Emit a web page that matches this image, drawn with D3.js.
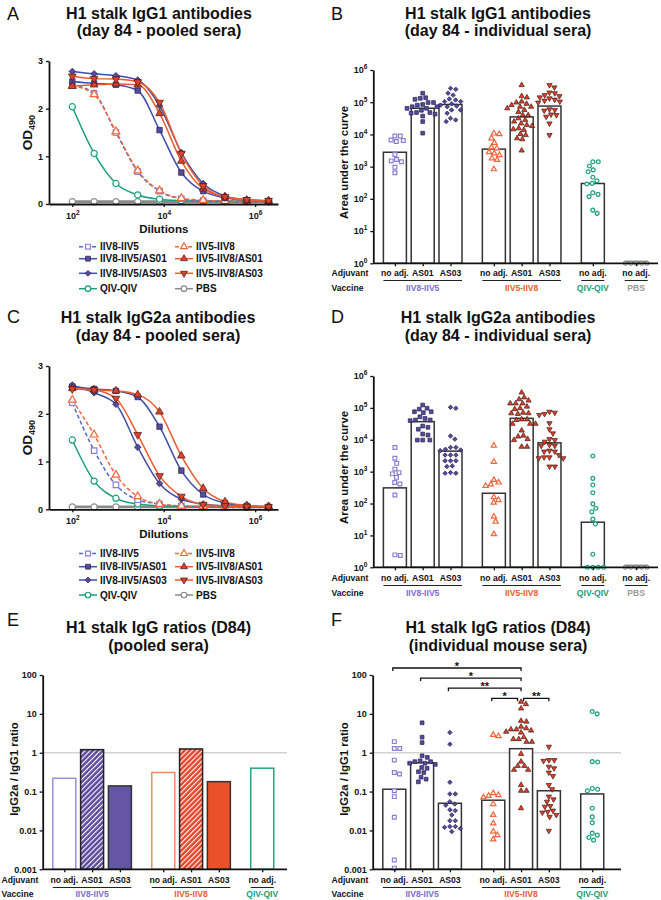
<!DOCTYPE html>
<html><head><meta charset="utf-8">
<script src="https://cdn.jsdelivr.net/npm/d3@7"></script>
<style>body{margin:0;background:#fff}svg{display:block}</style>
</head><body>
<script>
// ================= DATA =================
const seriesNames = ["IIV8-IIV5","IIV8-IIV5/AS01","IIV8-IIV5/AS03","IIV5-IIV8","IIV5-IIV8/AS01","IIV5-IIV8/AS03","QIV-QIV","PBS"];
const dilutions = [100,300,900,2700,8100,24300,72900,218700,656100,1968300];
const dilutionTicks = [1e2,1e4,1e6];
const odTicks = [0,1,2,3];

// Panel A: OD490 of pooled sera, IgG1 (rows follow seriesNames)
const odIgG1 = [
  [2.50,2.32,1.50,0.68,0.27,0.11,0.07,0.06,0.05,0.05],
  [2.57,2.53,2.50,2.38,1.55,0.66,0.27,0.13,0.08,0.06],
  [2.78,2.73,2.69,2.60,2.06,1.08,0.43,0.17,0.09,0.07],
  [2.48,2.30,1.52,0.70,0.28,0.12,0.08,0.06,0.05,0.05],
  [2.47,2.50,2.52,2.50,1.90,0.90,0.32,0.15,0.08,0.07],
  [2.68,2.63,2.62,2.56,2.13,1.06,0.38,0.15,0.09,0.07],
  [2.04,1.06,0.43,0.19,0.10,0.07,0.06,0.05,0.05,0.05],
  [0.05,0.05,0.05,0.05,0.05,0.05,0.05,0.05,0.05,0.05]
];
// Panel C: OD490 of pooled sera, IgG2a
const odIgG2a = [
  [2.23,1.23,0.51,0.20,0.11,0.07,0.05,0.04,0.04,0.04],
  [2.57,2.52,2.48,2.35,1.73,0.81,0.31,0.13,0.07,0.05],
  [2.60,2.44,2.20,1.30,0.54,0.21,0.11,0.07,0.06,0.05],
  [2.29,1.56,0.72,0.27,0.11,0.07,0.06,0.05,0.05,0.05],
  [2.53,2.50,2.48,2.40,2.04,1.12,0.44,0.16,0.08,0.06],
  [2.52,2.50,2.32,1.56,0.70,0.27,0.10,0.07,0.06,0.05],
  [1.45,0.59,0.23,0.11,0.07,0.06,0.05,0.05,0.05,0.05],
  [0.05,0.05,0.05,0.05,0.05,0.05,0.05,0.05,0.05,0.05]
];

// Categories for bar panels
const adjuvants = ["no adj.","AS01","AS03","no adj.","AS01","AS03","no adj.","no adj."];
const vaccines = ["IIV8-IIV5","IIV5-IIV8","QIV-QIV","PBS"];
const vaccineOfBar = [0,0,0,1,1,1,2,3];

// Panel B: IgG1 area under the curve (bar = geometric mean; points = log10 of individual AUC)
const igg1Bars = [2800,65000,85000,3500,35000,76000,300,1];
const igg1PointsLog10 = [
  [3.95,3.95,3.81,3.78,3.83,3.38,3.15,3.18,3.22,2.98,2.81],
  [5.28,5.14,5.12,5.09,4.93,4.99,4.99,4.91,4.81,4.86,4.81,4.68,4.66,4.68,4.57,4.63,4.40,4.04,4.86,4.75],
  [5.43,5.40,5.28,5.22,5.07,5.02,5.02,4.88,4.91,4.86,4.76,4.76,4.66,4.50,4.45,4.40,4.95,5.10],
  [4.01,4.03,3.88,3.74,3.60,3.41,3.57,3.36,3.26,3.21,2.92,3.45],
  [5.53,5.19,5.15,5.02,4.99,4.91,4.86,4.86,4.81,4.76,4.95,4.60,4.60,4.50,4.45,4.34,4.26,4.29,4.16,4.14,4.19,3.98,3.88,3.85,4.01,3.50,4.70,4.40],
  [5.53,5.46,5.30,5.28,5.19,5.15,5.12,5.05,5.02,4.99,5.08,4.76,4.78,4.74,4.60,4.55,4.62,4.34,3.98,5.22],
  [3.15,3.15,3.02,2.90,2.84,2.67,2.56,2.46,2.48,2.14,2.07,2.19,1.55,1.65],
  [0,0,0,0,0]
];
// Panel D: IgG2a area under the curve
const igg2aBars = [310,37000,4400,210,47000,8000,26,1];
const igg2aPointsLog10 = [
  [3.76,3.42,3.26,3.08,2.93,2.97,2.82,2.61,2.66,2.27,0.37,0.39],
  [5.09,4.96,4.99,4.88,4.85,4.88,4.72,4.67,4.62,4.60,4.62,4.39,4.33,4.43,4.15,4.18,3.99,3.99,3.99],
  [5.02,4.99,4.12,4.02,3.76,3.70,3.66,3.68,3.76,3.52,3.52,3.52,3.34,3.34,3.34,3.16,3.18,2.97,2.95,2.95],
  [3.82,3.31,2.66,2.60,2.74,2.55,2.20,2.03,2.11,1.59,1.43,1.04],
  [5.48,5.33,5.27,5.14,5.14,5.23,5.14,5.04,4.96,4.99,4.85,4.83,4.81,4.83,4.64,4.64,4.62,4.50,4.50,4.50,4.29,4.13,4.10,4.02,3.99,3.78,3.78],
  [4.85,4.78,4.81,4.88,4.52,4.33,4.20,4.02,3.94,3.99,3.81,3.84,3.81,3.63,3.63,3.66,3.45,3.42,3.42,3.45,3.52,3.16,3.16],
  [3.49,2.79,2.58,2.34,1.99,1.85,1.74,1.51,1.36,0.41,0,0,0,0],
  [0,0,0,0,0]
];
// Panel E: IgG2a/IgG1 ratio of pooled sera
const pooledRatio = [0.22,1.2,0.14,0.31,1.25,0.18,0.40];
// Panel F: IgG2a/IgG1 ratio of individual sera
const ratioBars = [0.115,0.55,0.05,0.06,1.27,0.105,0.087];
const ratioPointsLog10 = [
  [0.285,0.11,0.11,-0.19,-0.55,-0.51,-0.98,-1.13,-1.66,-2.76,-2.97],
  [0.77,0.40,0.26,-0.12,-0.08,-0.23,-0.21,-0.23,-0.27,-0.27,-0.38,-0.40,-0.49,-0.51,-0.63,-0.75,-0.68,-0.30],
  [0.52,0.22,-0.76,-1.06,-1.06,-1.26,-1.35,-1.32,-1.47,-1.49,-1.60,-1.75,-1.75,-1.90,-1.92,-1.90,-1.95,-2.03],
  [0.43,0.46,-1.04,-1.15,-1.11,-1.09,-1.32,-1.60,-1.82,-2.03,-2.12,-2.23],
  [1.31,1.25,1.14,0.82,0.80,0.67,0.63,0.60,0.57,0.54,0.52,0.60,0.40,0.35,0.35,0.28,0.28,-0.03,-0.23,-0.34,-0.44,-0.44,-0.34,-0.83,-0.98,-0.98,-1.43],
  [0.155,-0.19,-0.21,-0.19,-0.40,-0.36,-0.51,-0.83,-0.94,-1.13,-1.26,-1.39,-1.37,-1.49,-1.54,-1.52,-1.60,-1.65,-2.01,-0.60,-1.20],
  [1.0,1.06,-0.23,-0.24,-0.92,-0.98,-0.94,-1.43,-1.65,-1.80,-2.12,-2.07,-2.18,-2.25]
];
const aucTicks = [1,10,100,1e3,1e4,1e5,1e6];
const ratioTicks = [0.001,0.01,0.1,1,10,100];
// significance brackets in F: [bar a, bar b, label]
const sigPairs = [[0,4,"*"],[1,4,"*"],[2,4,"**"],[3,4,"*"],[4,5,"**"]];

// ================= STYLE =================
const FONT = '"Liberation Sans", Arial, Helvetica, sans-serif';
const styles = [
  {sym:"square", fill:"#fff", stroke:"#8a7ed4", line:"#5468c8", dash:"4,2.5"},
  {sym:"square", fill:"#574a9f", stroke:"#26214d", line:"#3f4ea8"},
  {sym:"diamond", fill:"#574a9f", stroke:"#26214d", line:"#3f4ea8"},
  {sym:"triangle", fill:"#fff", stroke:"#f3643a", line:"#f3643a", dash:"4,2.5"},
  {sym:"triangle", fill:"#e3402b", stroke:"#3b1a12", line:"#ef5a2c"},
  {sym:"triangleDown", fill:"#e3402b", stroke:"#3b1a12", line:"#ef5a2c"},
  {sym:"circle", fill:"#fff", stroke:"#17a07b", line:"#17a07b"},
  {sym:"circle", fill:"#fff", stroke:"#8a8a8a", line:"#8a8a8a"}
];
const vaccineColors = ["#7b6fd0","#f05a30","#16a07a","#9a9a9a"];
const smallSizes = {square:14, diamond:10, triangle:12, triangleDown:12, circle:12};
const curveSizes = {square:30, diamond:22, triangle:26, triangleDown:26, circle:30};
const legendSizes = {square:24, diamond:17, triangle:21, triangleDown:21, circle:24};

const svg = d3.select("body").append("svg").attr("width",661).attr("height",900)
  .style("font-family",FONT);

const defs = svg.append("defs");
function hatch(id, color){
  const p = defs.append("pattern").attr("id",id).attr("patternUnits","userSpaceOnUse")
    .attr("width",3.6).attr("height",3.6).attr("patternTransform","rotate(45)");
  p.append("rect").attr("width",3.6).attr("height",3.6).attr("fill",color);
  p.append("line").attr("x1",0).attr("y1",0).attr("x2",0).attr("y2",3.6).attr("stroke","#fff").attr("stroke-width",2.2);
}
hatch("hatchPurple","#5a4a9e");
hatch("hatchRed","#e8452a");

function markerPath(type, size){
  const t = {square:d3.symbolSquare, diamond:d3.symbolSquare, triangle:d3.symbolTriangle,
             triangleDown:d3.symbolTriangle, circle:d3.symbolCircle}[type];
  return d3.symbol().type(t).size(size)();
}
function drawMarker(g, st, x, y, sizes){
  const rot = st.sym==="diamond"?45:(st.sym==="triangleDown"?180:0);
  g.append("path").attr("d", markerPath(st.sym, sizes[st.sym]))
    .attr("transform",`translate(${x},${y}) rotate(${rot})`)
    .attr("fill",st.fill).attr("stroke",st.stroke)
    .attr("stroke-width", st.fill==="#fff"?1.2:0.7);
}
function styleAxis(sel){
  sel.attr("font-family",FONT).attr("font-size",9).attr("font-weight","bold");
  sel.select(".domain").attr("stroke","#111").attr("stroke-width",1.8);
  sel.selectAll(".tick line").attr("stroke","#111").attr("stroke-width",1.3);
  sel.selectAll(".tick text").attr("fill","#111");
}
function supLabels(sel){
  sel.selectAll(".tick text").text(null).each(function(d){
    const t = d3.select(this);
    t.append("tspan").text("10");
    t.append("tspan").attr("dy",-4).attr("font-size",6.5).text(Math.round(Math.log10(d)));
  });
}
function panelTitle(letter, lx, ly, cx, y1, y2, t1, t2){
  svg.append("text").attr("x",lx).attr("y",ly).attr("font-size",18).attr("fill","#111").text(letter);
  svg.append("text").attr("x",cx).attr("y",y1).attr("text-anchor","middle").attr("font-size",16)
    .attr("font-weight","bold").attr("fill","#111").text(t1);
  svg.append("text").attr("x",cx).attr("y",y2).attr("text-anchor","middle").attr("font-size",16)
    .attr("font-weight","bold").attr("fill","#111").text(t2);
}
function yTitle(x, cy, txt, sub){
  const t = svg.append("text").attr("transform",`translate(${x},${cy}) rotate(-90)`)
    .attr("text-anchor","middle").attr("font-weight","bold").attr("fill","#111");
  if(sub){
    t.attr("font-size",13.5);
    t.append("tspan").text(txt);
    t.append("tspan").attr("font-size",9).attr("dy",3).text(sub);
  } else {
    t.attr("font-size",11.3).text(txt);
  }
}

// ================= CURVE PANELS =================
function curvePanel(cfg, od){
  const g = svg.append("g");
  const xs = d3.scaleLog().domain([Math.pow(10,1.49), Math.pow(10,6.5)]).range([cfg.x0, cfg.x1]);
  const ys = d3.scaleLinear().domain([0,3]).range([cfg.yb, cfg.yt]);
  const drawOrder = [7,6,0,3,1,2,4,5];
  const line = d3.line().x(d=>xs(d[0])).y(d=>ys(d[1])).curve(d3.curveMonotoneX);
  drawOrder.forEach(s=>{
    const st = styles[s];
    g.append("path").datum(dilutions.map((x,i)=>[x, od[s][i]]))
      .attr("d",line).attr("fill","none").attr("stroke",st.line)
      .attr("stroke-width", s===7?2.6:1.5).attr("stroke-dasharray",st.dash||null);
  });
  drawOrder.forEach(s=>{
    dilutions.forEach((x,i)=> drawMarker(g, styles[s], xs(x), ys(od[s][i]), curveSizes));
  });
  const ya = g.append("g").attr("transform",`translate(${cfg.x0},0)`)
    .call(d3.axisLeft(ys).tickValues(odTicks).tickFormat(d3.format("d")).tickSize(3).tickSizeOuter(0));
  styleAxis(ya);
  const xa = g.append("g").attr("transform",`translate(0,${cfg.yb})`)
    .call(d3.axisBottom(xs).tickValues(dilutionTicks).tickSize(3).tickSizeOuter(0).tickPadding(4));
  styleAxis(xa); supLabels(xa);
  xa.selectAll(".tick text").attr("dy","0.9em");
  g.append("text").attr("x",(xs(1e2)+xs(1e6))/2).attr("y",cfg.yb+29).attr("text-anchor","middle")
    .attr("font-size",11.5).attr("font-weight","bold").attr("fill","#111").text("Dilutions");
  yTitle(cfg.x0-17, (cfg.yb+cfg.yt)/2, "OD", "490");
  // legend
  const cols = [[0,1,2,6],[3,4,5,7]];
  const colX = [79, 175];
  cols.forEach((col,ci)=>col.forEach((s,ri)=>{
    const y = cfg.legendY[ri], x = colX[ci], st = styles[s];
    g.append("line").attr("x1",x).attr("x2",x+18).attr("y1",y).attr("y2",y)
      .attr("stroke",st.line).attr("stroke-width",1.5).attr("stroke-dasharray",st.dash||null);
    drawMarker(g, st, x+9, y, legendSizes);
    g.append("text").attr("x",x+21).attr("y",y+3.5).attr("font-size",10).attr("font-weight","bold")
      .attr("fill","#111").text(seriesNames[s]);
  }));
}

// ================= BEESWARM =================
function swarm(ys, d){
  const order = ys.map((y,i)=>i).sort((a,b)=>ys[a]-ys[b] || a-b);
  const placed = [], xs = new Array(ys.length);
  for(const i of order){
    const y = ys[i];
    const near = placed.filter(p=>Math.abs(p.y-y)<d);
    const cands = [0];
    near.forEach(p=>{ const dx = Math.sqrt(d*d-(p.y-y)*(p.y-y)); cands.push(p.x+dx+0.01, p.x-dx-0.01); });
    cands.sort((a,b)=>Math.abs(a)-Math.abs(b) || b-a);
    const x = cands.find(c=>near.every(p=>(p.x-c)*(p.x-c)+(p.y-y)*(p.y-y) >= d*d-0.01));
    xs[i] = x; placed.push({x,y});
  }
  return xs;
}

// ================= BAR PANELS =================
function barPanel(cfg){
  const g = svg.append("g");
  const n = cfg.bars.length;
  const slot = i => i + vaccineOfBar[i]*0.56;
  const xs = d3.scaleLinear().domain([0,1]).range([cfg.x0+21.6, cfg.x0+21.6+27.8]);
  const ys = d3.scaleLog().domain(cfg.domain).range([cfg.yb, cfg.yt]);
  const bw = 23;
  if(cfg.refLine){
    g.append("line").attr("x1",cfg.x0).attr("x2",cfg.xEnd).attr("y1",ys(1)).attr("y2",ys(1))
      .attr("stroke","#d2d2d2").attr("stroke-width",1.6);
  }
  cfg.bars.forEach((v,i)=>{
    const cx = xs(slot(i));
    if(v <= cfg.domain[0]){
      g.append("line").attr("x1",cx-bw/2).attr("x2",cx+bw/2).attr("y1",cfg.yb-1).attr("y2",cfg.yb-1)
        .attr("stroke","#8a8a8a").attr("stroke-width",3.5);
      return;
    }
    const r = g.append("rect").attr("x",cx-bw/2).attr("width",bw).attr("y",ys(v)).attr("height",cfg.yb-ys(v));
    if(cfg.barFill){ const f = cfg.barFill[i]; r.attr("fill",f.fill).attr("stroke",f.stroke).attr("stroke-width",1.5); }
    else r.attr("fill","#fff").attr("stroke","#333").attr("stroke-width",1.5);
  });
  if(cfg.points){
    cfg.points.forEach((arr,i)=>{
      const cx = xs(slot(i));
      const py = arr.map(v=>ys(Math.pow(10,v)));
      const off = swarm(py, 5.4);
      arr.forEach((v,k)=> drawMarker(g, styles[i], cx+off[k], py[k], smallSizes));
    });
  }
  const ya = g.append("g").attr("transform",`translate(${cfg.x0},0)`)
    .call(d3.axisLeft(ys).tickValues(cfg.ticks).tickSize(3).tickSizeOuter(0)
      .tickFormat(cfg.sup? (d=>d) : d3.format("~g")));
  styleAxis(ya);
  if(cfg.sup) supLabels(ya);
  const sl = d3.range(n).map(slot);
  const xa = g.append("g").attr("transform",`translate(0,${cfg.yb})`)
    .call(d3.axisBottom(xs).tickValues(sl).tickFormat("").tickSize(3).tickSizeOuter(0));
  styleAxis(xa);
  xa.select(".domain").attr("d",`M${cfg.x0},0H${cfg.xEnd}`);
  // category labels
  g.append("text").attr("x",cfg.rowX).attr("y",cfg.adjY).attr("font-size",8.6).attr("font-weight","bold").attr("fill","#111").text("Adjuvant");
  g.append("text").attr("x",cfg.rowX).attr("y",cfg.vacY).attr("font-size",8.6).attr("font-weight","bold").attr("fill","#111").text("Vaccine");
  d3.range(n).forEach(i=>{
    g.append("text").attr("x",xs(slot(i))).attr("y",cfg.adjY).attr("text-anchor","middle")
      .attr("font-size",8.6).attr("font-weight","bold").attr("fill","#111").text(adjuvants[i]);
  });
  const groups = d3.groups(d3.range(n), i=>vaccineOfBar[i]);
  groups.forEach(([vi, idx])=>{
    const xa0 = xs(slot(idx[0]))-bw/2, xa1 = xs(slot(idx[idx.length-1]))+bw/2;
    g.append("line").attr("x1",xa0).attr("x2",xa1).attr("y1",cfg.ulY).attr("y2",cfg.ulY)
      .attr("stroke","#222").attr("stroke-width",1);
    g.append("text").attr("x",(xa0+xa1)/2).attr("y",cfg.vacY).attr("text-anchor","middle")
      .attr("font-size",8.6).attr("font-weight","bold").attr("fill",vaccineColors[vi]).text(vaccines[vi]);
  });
  // significance
  if(cfg.sig){
    const levels = [];
    const ordered = cfg.sig.map((p,k)=>({a:p[0],b:p[1],lab:p[2],k})).sort((p,q)=>(p.b-p.a)-(q.b-q.a));
    ordered.forEach(p=>{
      let lv = 0;
      while(levels.some(q=>q.lv===lv && p.a<q.b && q.a<p.b)) lv++;
      p.lv = lv; levels.push(p);
    });
    levels.forEach(p=>{
      const shareA = levels.some(q=>q!==p && q.lv===p.lv && q.b===p.a);
      const shareB = levels.some(q=>q!==p && q.lv===p.lv && q.a===p.b);
      const x1 = xs(slot(p.a)) + (shareA?2.5:-1.5);
      const x2 = xs(slot(p.b)) - (shareB?3.5:0);
      const y = cfg.sigBase - p.lv*10.1;
      g.append("path").attr("d",`M${x1},${y+3}V${y}H${x2}V${y+3}`).attr("fill","none")
        .attr("stroke","#111").attr("stroke-width",1.3);
      g.append("text").attr("x",(x1+x2)/2).attr("y",y+1.5).attr("text-anchor","middle")
        .attr("font-size",11).attr("font-weight","bold").attr("fill","#111").text(p.lab);
    });
  }
}

// ================= DRAW =================
panelTitle("A", 7, 20, 159, 18.5, 36, "H1 stalk IgG1 antibodies", "(day 84 - pooled sera)");
panelTitle("B", 331, 20, 498, 18.5, 36, "H1 stalk IgG1 antibodies", "(day 84 - individual sera)");
panelTitle("C", 7, 323, 158, 322.7, 340.7, "H1 stalk IgG2a antibodies", "(day 84 - pooled sera)");
panelTitle("D", 331, 323, 498, 322.7, 340.7, "H1 stalk IgG2a antibodies", "(day 84 - individual sera)");
panelTitle("E", 7, 626, 158.5, 632.7, 650.5, "H1 stalk IgG ratios (D84)", "(pooled sera)");
panelTitle("F", 331, 626, 498, 633, 651, "H1 stalk IgG ratios (D84)", "(individual mouse sera)");

curvePanel({x0:49, x1:278, yt:61, yb:204, legendY:[246.7,258.7,273.3,288.7]}, odIgG1);
curvePanel({x0:49, x1:278, yt:366, yb:509.3, legendY:[553.5,566.7,580,595]}, odIgG2a);

barPanel({x0:373.3, xEnd:658, yt:70, yb:263.3, domain:[1,1e6], ticks:aucTicks, sup:true,
  bars:igg1Bars, points:igg1PointsLog10, rowX:331.5, adjY:276, ulY:280.5, vacY:290.5});
yTitle(347.5, 162.5, "Area under the curve");
barPanel({x0:373.3, xEnd:658, yt:376, yb:567.3, domain:[1,1e6], ticks:aucTicks, sup:true,
  bars:igg2aBars, points:igg2aPointsLog10, rowX:331.5, adjY:581, ulY:585.5, vacY:595.5});
yTitle(347.5, 467.5, "Area under the curve");

const eFills = [
  {fill:"#fff", stroke:"#9a8fdc"}, {fill:"url(#hatchPurple)", stroke:"#222"}, {fill:"#6455a5", stroke:"#333"},
  {fill:"#fff", stroke:"#f58a5f"}, {fill:"url(#hatchRed)", stroke:"#222"}, {fill:"#ea5128", stroke:"#333"},
  {fill:"#fff", stroke:"#22a77d"}
];
barPanel({x0:42.7, xEnd:287, yt:675, yb:869.3, domain:[0.001,100], ticks:ratioTicks, sup:false,
  bars:pooledRatio, barFill:eFills, refLine:true, rowX:1.5, adjY:883, ulY:887.5, vacY:897});
yTitle(17.5, 769, "IgG2a / IgG1 ratio");
barPanel({x0:372.7, xEnd:621, yt:675, yb:869.3, domain:[0.001,100], ticks:ratioTicks, sup:false,
  bars:ratioBars, points:ratioPointsLog10, refLine:true, sig:sigPairs, sigBase:698.3,
  rowX:331.5, adjY:883, ulY:887.5, vacY:897});
yTitle(347.5, 769, "IgG2a / IgG1 ratio");
</script>
</body></html>
